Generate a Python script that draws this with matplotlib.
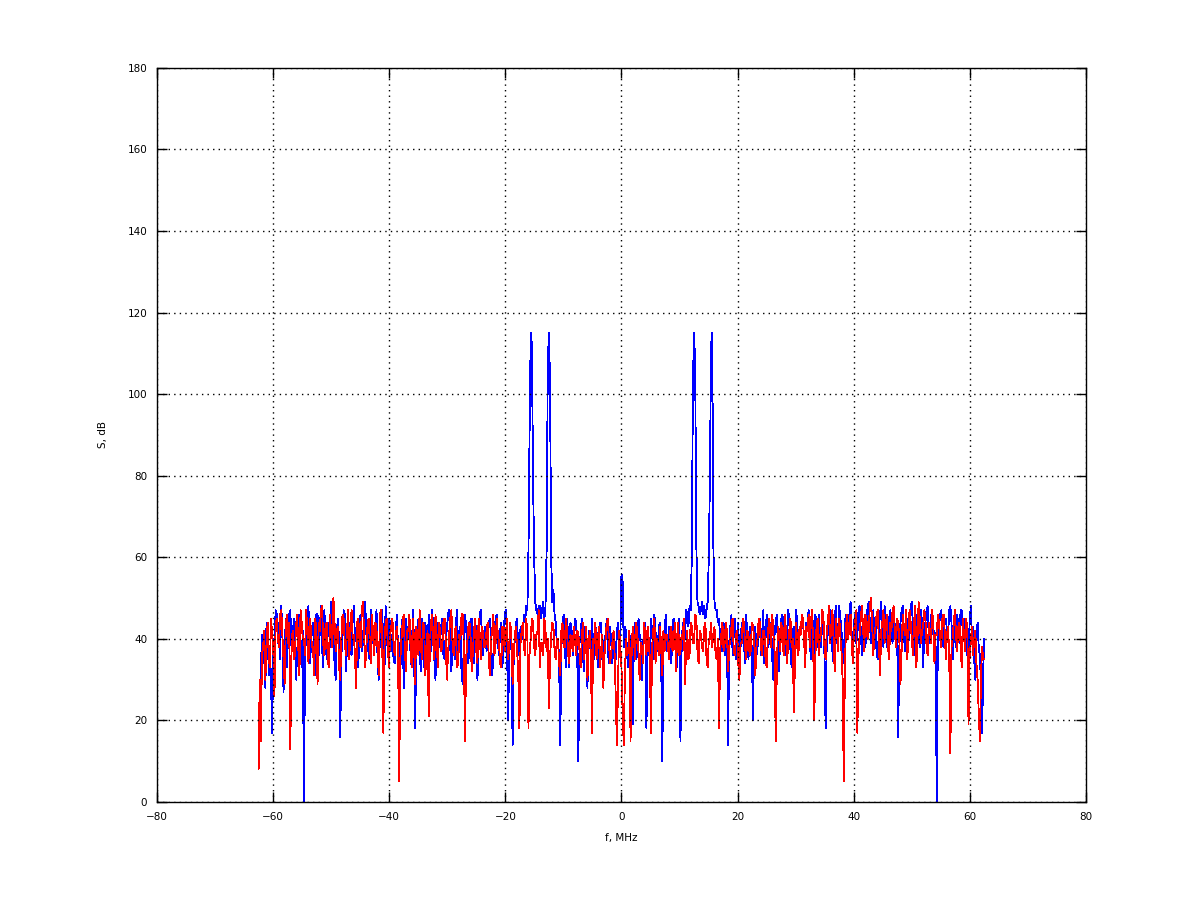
import numpy as np
import matplotlib
matplotlib.use('Agg')
import matplotlib.pyplot as plt

# frequency axis, MHz (641 bins over -62.5 .. 62.5)
f_start = -62.5
f_stop = 62.5

# spectrum S, dB  - blue trace
s_blue = [
    20, 26, 32, 41, 40, 35, 28, 44, 43, 31, 38, 29, 17, 40, 36, 47, 46, 39, 44, 35,
    48, 42, 27, 37, 45, 33, 41, 46, 47, 38, 39, 45, 44, 30, 36, 43, 46, 40, 33, 42,
    0, 37, 40, 45, 48, 34, 37, 42, 44, 39, 31, 46, 46, 36, 42, 48, 38, 33, 47, 41,
    35, 44, 43, 38, 49, 45, 40, 34, 30, 42, 45, 39, 16, 36, 41, 47, 46, 32, 38, 43,
    44, 38, 36, 45, 48, 40, 41, 35, 33, 44, 46, 37, 39, 46, 49, 41, 42, 36, 35, 47,
    45, 39, 40, 43, 47, 34, 30, 41, 43, 47, 38, 32, 48, 42, 36, 45, 44, 37, 41, 35,
    34, 42, 46, 37, 39, 31, 43, 45, 28, 38, 45, 41, 40, 46, 36, 33, 47, 40, 18, 36,
    42, 45, 38, 32, 45, 39, 33, 44, 41, 36, 46, 42, 37, 47, 43, 35, 30, 41, 44, 38,
    39, 43, 45, 36, 35, 41, 42, 46, 47, 38, 32, 40, 40, 35, 44, 47, 37, 42, 43, 31,
    29, 39, 46, 43, 38, 34, 41, 45, 45, 37, 34, 44, 42, 30, 39, 46, 47, 40, 36, 42,
    43, 37, 38, 44, 45, 40, 31, 36, 41, 45, 46, 39, 36, 42, 44, 33, 39, 46, 47, 41,
    20, 35, 42, 38, 14, 37, 40, 44, 45, 36, 37, 43, 43, 40, 46, 44, 48, 47, 62, 92,
    115, 112, 80, 60, 49, 47, 46, 48, 48, 45, 47, 49, 45, 48, 62, 107, 115, 103, 60, 49,
    52, 46, 44, 39, 40, 35, 14, 38, 43, 46, 38, 33, 45, 41, 33, 44, 42, 36, 39, 45,
    44, 37, 10, 39, 41, 45, 36, 32, 43, 40, 28, 42, 40, 36, 45, 38, 35, 43, 42, 33,
    38, 44, 44, 36, 31, 40, 41, 45, 37, 34, 43, 39, 34, 42, 39, 35, 42, 44, 36, 41,
    56, 54, 38, 43, 42, 36, 33, 41, 40, 37, 19, 42, 44, 35, 36, 45, 41, 39, 30, 38,
    43, 44, 18, 40, 39, 34, 45, 42, 35, 46, 42, 37, 38, 43, 44, 35, 10, 39, 41, 46,
    37, 40, 43, 36, 34, 44, 45, 38, 39, 33, 42, 45, 15, 37, 44, 41, 40, 47, 46, 43,
    48, 47, 60, 103, 115, 107, 63, 49, 48, 46, 47, 49, 46, 48, 45, 47, 49, 60, 80, 112,
    115, 63, 49, 47, 47, 44, 45, 40, 41, 37, 44, 36, 38, 42, 14, 39, 43, 46, 36, 41,
    45, 35, 40, 44, 33, 38, 44, 42, 39, 34, 46, 40, 35, 43, 42, 37, 20, 41, 43, 36,
    38, 43, 45, 36, 41, 47, 34, 40, 46, 38, 39, 44, 43, 35, 30, 41, 44, 46, 37, 32,
    42, 45, 46, 39, 36, 43, 40, 47, 45, 37, 33, 42, 43, 36, 47, 44, 38, 41, 41, 45,
    45, 39, 36, 44, 43, 47, 40, 35, 47, 42, 35, 46, 42, 38, 46, 41, 38, 45, 44, 36,
    18, 40, 41, 47, 47, 43, 37, 34, 45, 48, 39, 42, 48, 45, 42, 37, 34, 44, 46, 40,
    43, 46, 49, 41, 38, 44, 46, 39, 41, 47, 48, 42, 36, 45, 45, 38, 42, 48, 49, 44,
    39, 46, 47, 41, 44, 36, 35, 43, 46, 49, 41, 38, 48, 45, 38, 42, 45, 47, 43, 39,
    47, 43, 40, 45, 16, 38, 44, 47, 48, 41, 37, 44, 45, 39, 42, 48, 49, 43, 36, 40,
    46, 45, 41, 38, 47, 44, 33, 42, 44, 47, 48, 40, 39, 46, 45, 41, 42, 38, 0, 44,
    43, 46, 47, 40, 38, 45, 45, 42, 41, 47, 48, 44, 35, 40, 44, 38, 46, 43, 39, 47,
    47, 41, 42, 45, 45, 36, 37, 44, 48, 40, 43, 35, 30, 41, 44, 38, 36, 29, 17, 33,
    40,
]

# spectrum S, dB  - red trace
s_red = [
    8, 30, 15, 36, 38, 42, 30, 39, 44, 35, 33, 45, 41, 37, 26, 43, 45, 40, 38, 46,
    47, 41, 35, 29, 43, 46, 39, 44, 13, 37, 42, 35, 36, 43, 46, 38, 31, 47, 44, 40,
    40, 36, 47, 42, 34, 45, 43, 38, 38, 31, 45, 41, 29, 44, 42, 47, 48, 39, 36, 43,
    44, 35, 33, 46, 41, 38, 50, 44, 37, 42, 43, 33, 30, 40, 46, 45, 39, 36, 42, 47,
    35, 43, 47, 40, 41, 36, 28, 44, 45, 39, 38, 47, 49, 42, 33, 38, 43, 45, 40, 34,
    46, 41, 36, 44, 42, 37, 31, 46, 47, 40, 17, 38, 44, 45, 38, 33, 41, 43, 45, 39,
    36, 41, 43, 38, 5, 35, 40, 44, 46, 37, 32, 42, 42, 46, 38, 33, 45, 40, 29, 43,
    41, 36, 47, 39, 35, 44, 43, 31, 37, 42, 21, 38, 44, 46, 39, 35, 46, 41, 33, 44,
    42, 37, 38, 44, 45, 40, 30, 36, 41, 45, 47, 39, 36, 42, 43, 33, 34, 41, 40, 46,
    46, 38, 15, 35, 39, 43, 44, 40, 32, 37, 42, 45, 37, 34, 45, 41, 35, 43, 41, 38,
    38, 42, 44, 35, 31, 40, 42, 46, 36, 39, 45, 41, 39, 34, 33, 43, 43, 37, 40, 45,
    35, 38, 44, 40, 29, 36, 41, 43, 37, 31, 18, 39, 42, 44, 38, 36, 45, 41, 18, 37,
    40, 45, 44, 38, 36, 41, 42, 47, 33, 39, 39, 36, 45, 42, 37, 40, 23, 35, 41, 44,
    43, 37, 35, 40, 40, 34, 31, 42, 44, 38, 38, 45, 42, 36, 34, 41, 39, 37, 43, 40,
    36, 42, 41, 37, 33, 40, 44, 35, 38, 43, 30, 38, 42, 36, 17, 40, 39, 44, 35, 38,
    43, 33, 37, 41, 28, 36, 40, 44, 45, 39, 34, 37, 39, 42, 36, 25, 14, 30, 42, 38,
    33, 22, 14, 31, 40, 36, 37, 42, 15, 38, 43, 40, 35, 44, 41, 37, 30, 39, 38, 34,
    44, 41, 36, 43, 40, 35, 17, 38, 42, 45, 34, 40, 39, 36, 43, 38, 31, 42, 37, 41,
    41, 38, 35, 42, 43, 37, 38, 44, 32, 40, 44, 36, 37, 41, 40, 45, 29, 38, 42, 35,
    36, 44, 43, 39, 39, 46, 45, 37, 34, 42, 41, 38, 37, 43, 44, 35, 33, 40, 40, 44,
    38, 41, 43, 36, 35, 40, 18, 37, 41, 44, 37, 39, 44, 42, 32, 38, 40, 43, 45, 37,
    36, 41, 42, 34, 30, 39, 39, 45, 44, 38, 35, 42, 41, 36, 37, 44, 43, 40, 31, 38,
    40, 45, 44, 38, 36, 42, 42, 35, 33, 40, 45, 43, 38, 46, 41, 37, 15, 33, 43, 41,
    37, 44, 40, 36, 46, 42, 34, 39, 42, 45, 38, 40, 22, 35, 44, 38, 36, 43, 41, 46,
    45, 40, 33, 43, 42, 46, 38, 44, 47, 39, 20, 36, 43, 45, 36, 41, 41, 47, 46, 38,
    35, 42, 44, 48, 39, 43, 47, 40, 32, 45, 42, 37, 45, 41, 37, 30, 5, 33, 43, 46,
    40, 44, 46, 39, 34, 42, 44, 47, 17, 36, 41, 45, 48, 43, 37, 46, 45, 40, 42, 48,
    50, 44, 36, 41, 43, 46, 47, 39, 31, 42, 44, 47, 39, 43, 46, 38, 35, 44, 42, 47,
    48, 42, 38, 45, 44, 40, 29, 37, 46, 43, 41, 47, 35, 41, 47, 44, 40, 36, 44, 48,
    33, 40, 49, 45, 39, 42, 43, 47, 45, 38, 36, 44, 42, 39, 47, 43, 34, 41, 41, 46,
    44, 40, 38, 45, 46, 42, 35, 41, 43, 36, 12, 38, 40, 44, 47, 41, 37, 43, 44, 39,
    33, 45, 41, 37, 45, 42, 19, 36, 39, 43, 36, 40, 42, 34, 30, 22, 15, 31, 38, 35,
    35,
]

f = np.linspace(f_start, f_stop, len(s_blue))

plt.rcParams['font.family'] = ['DejaVu Sans']
fig = plt.figure(figsize=(12, 9.01), dpi=100)
ax = fig.add_axes([0.1308, 0.1099, 0.7742, 0.8147])

# crisp 1 px traces as in the octave/gnuplot png
ax.plot(f, s_blue, color='#0000ff', lw=0.6, antialiased=False)
ax.plot(f, s_red, color='#ff0000', lw=0.6, antialiased=False)

ax.set_xlim(-80, 80)
ax.set_ylim(0, 180)
ax.set_xticks(np.arange(-80, 81, 20))
ax.set_yticks(np.arange(0, 181, 20))

# grid on top of the traces, like the octave plot
ax.set_axisbelow(False)
ax.grid(True, color='black', linestyle=(0, (1, 3)), linewidth=1.0)
ax.tick_params(direction='in', length=7, width=1, top=True, right=True,
               labelsize=7.5, pad=7, colors='black')
for sp in ax.spines.values():
    sp.set_linewidth(1.0)
    sp.set_zorder(3)

ax.set_xlabel('f, MHz', fontsize=7.5, labelpad=8)
ax.set_ylabel('S, dB', fontsize=7.5, labelpad=14)

plt.savefig('out.png', dpi=100)
